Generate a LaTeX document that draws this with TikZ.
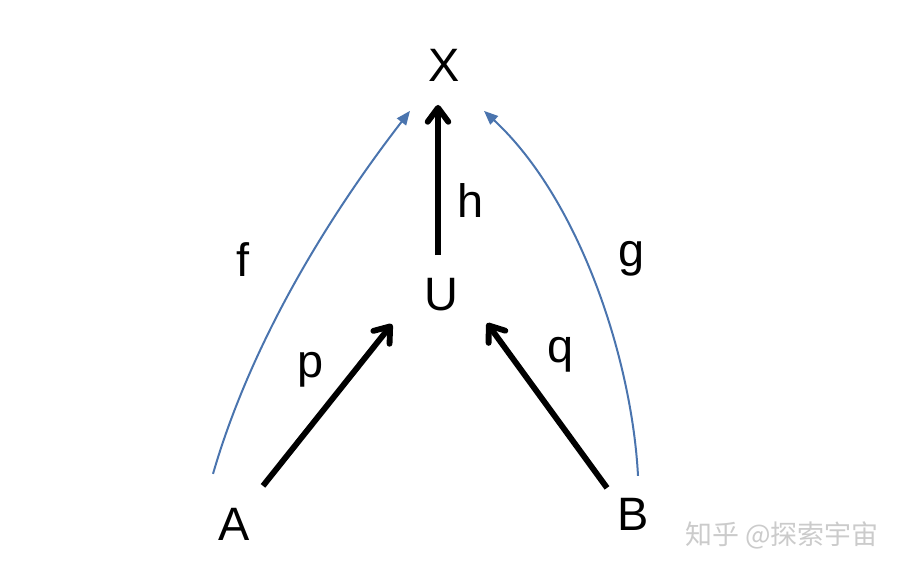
\documentclass[tikz,border=0pt]{standalone}
\usepackage{fontspec}
\setmainfont{Liberation Sans}
\newfontfamily\cjkwm{Noto Sans CJK SC}
\usetikzlibrary{arrows.meta,calc}
\definecolor{cblue}{HTML}{4A74AE}
\definecolor{wmgray}{HTML}{CBCBCB}

\tikzstyle{nS}=[inner sep = 0pt, anchor=base, font=\fontsize{40}{48}\selectfont]
\tikzstyle{lS}=[inner sep = 0pt, anchor=base, font=\fontsize{40}{48}\selectfont]
\tikzstyle{eB}=[line width=5pt, draw=black, -{Straight Barb[length=0.42cm, width=0.62cm, line cap=round, round]}]
\tikzstyle{eC}=[line width=1.7pt, draw=cblue, -{Triangle[length=0.42cm, width=0.34cm]}]

\begin{document}
\begin{tikzpicture}[x=0.03cm, y=-0.03cm]
                \useasboundingbox (0,0) rectangle (903,571);
                \draw (444,82) node[nS] (X) {X};
                \draw (441,310) node[nS] (U) {U};
                \draw (234,540) node[nS] (A) {A};
                \draw (633,530) node[nS] (B) {B};
                % labels of the maps
                \draw (243,276) node[lS] (lf) {f};
                \draw (632,267) node[lS] (lg) {g};
                \draw (471,218) node[lS] (lh) {h};
                \draw (311,377) node[lS] (lp) {p};
                \draw (561,362) node[lS] (lq) {q};
                % thick arrows
                \draw[eB] ($(U)+(-3,-39)$) -- ($(X)+(-6,39)$);
                \draw[eB] ($(A)+(29,-38)$) -- ($(U)+(-49,30)$);
                \draw[eB] ($(B)+(-26,-26)$) -- ($(U)+(46,29)$);
                % thin curved arrows
                \draw[eC] ($(A)+(-21,-50)$) .. controls (248,353) and (318,230) .. ($(X)+(-34,45)$);
                \draw[eC] ($(B)+(5,-38)$) .. controls (632,360) and (580,200) .. ($(X)+(40,45)$);
                % watermark
                \draw (782,535) node[text=wmgray, font=\cjkwm\fontsize{23}{28}\selectfont] (wm) {知乎 @探索宇宙};
        \end{tikzpicture}
\end{document}
